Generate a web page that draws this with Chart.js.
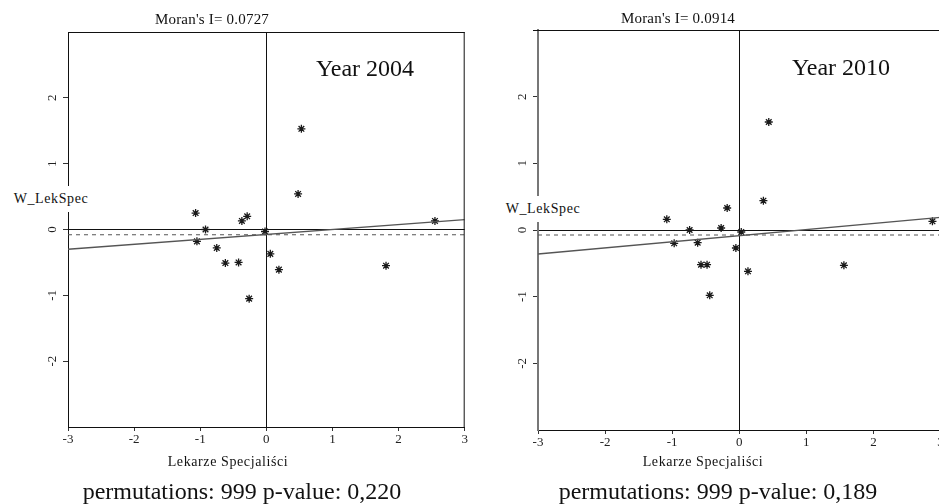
<!DOCTYPE html>
<html>
<head>
<meta charset="utf-8">
<script src="https://cdn.jsdelivr.net/npm/chart.js@4/dist/chart.umd.min.js"></script>
<style>
  html, body { margin: 0; padding: 0; background: #fff; }
  body { width: 939px; height: 504px; position: relative; overflow: hidden; }
  .panel { position: absolute; top: 0; height: 504px; }
  .lbl { position: absolute; transform: translate(-50%, -50%); white-space: nowrap;
         font-family: 'Liberation Serif', 'Times New Roman', serif; color: #111; line-height: 1; }
  .small { font-size: 14px; letter-spacing: 0.6px; }
  .title { font-size: 15px; letter-spacing: 0.2px; }
  .big { font-size: 24px; }
  .ylab { background: #fff; padding: 6px 1px; }
</style>
</head>
<body>

<div class="panel" style="left:0; width:470px;"><canvas id="chart2004"></canvas></div>
<div class="panel" style="left:470px; width:480px;"><canvas id="chart2010"></canvas></div>

<div class="lbl title" style="left:212px; top:19px;">Moran's I= 0.0727</div>
<div class="lbl title" style="left:678px; top:18px;">Moran's I= 0.0914</div>
<div class="lbl big" style="left:365px; top:68px;">Year 2004</div>
<div class="lbl big" style="left:841px; top:67px;">Year 2010</div>
<div class="lbl small ylab" style="left:51px; top:199px;">W_LekSpec</div>
<div class="lbl small ylab" style="left:543px; top:209px;">W_LekSpec</div>
<div class="lbl small" style="left:228px; top:462px;">Lekarze Specjaliści</div>
<div class="lbl small" style="left:703px; top:462px;">Lekarze Specjaliści</div>
<div class="lbl big" style="left:242px; top:491px;">permutations: 999 p-value: 0,220</div>
<div class="lbl big" style="left:718px; top:491px;">permutations: 999 p-value: 0,189</div>

<script>
const xTicks = [-3, -2, -1, 0, 1, 2, 3];
const yTicks = [-2, -1, 0, 1, 2];

const x2004 = [-1.07, -0.92, -1.05, -0.75, -0.37, -0.29, -0.02, 0.06, 0.53, 0.48, 2.55, -0.62, -0.42, -0.26, 0.19, 1.81];
const y2004 = [0.25, 0.00, -0.18, -0.28, 0.13, 0.20, -0.03, -0.37, 1.53, 0.54, 0.13, -0.51, -0.50, -1.05, -0.61, -0.55];

const x2010 = [-1.08, -0.74, -0.97, -0.62, -0.27, -0.18, -0.05, 0.03, 0.44, 0.36, 2.88, -0.57, -0.48, -0.44, 0.13, 1.56];
const y2010 = [0.16, 0.00, -0.20, -0.19, 0.03, 0.33, -0.27, -0.03, 1.62, 0.44, 0.13, -0.52, -0.52, -0.98, -0.62, -0.53];

// regression line and dashed reference line, endpoints at x = -3 and x = 3
const lineX = [-3, 3];
const fit2004 = [-0.30, 0.15];
const fit2010 = [-0.36, 0.19];
const dash2004 = [-0.08, -0.08];
const dash2010 = [-0.075, -0.075];

const FONT = "'Liberation Serif', 'Times New Roman', serif";

function pts(xs, ys) {
    return xs.map((x, i) => ({ x: x, y: ys[i] }));
}

// box around the plot area (top and right edges)
const framePlugin = {
    id: 'frame',
    afterDraw(chart, args, opts) {
        const a = chart.chartArea;
        const ctx = chart.ctx;
        ctx.save();
        ctx.strokeStyle = '#111';
        ctx.lineWidth = 1;
        ctx.beginPath();
        ctx.moveTo(a.left - (opts.topExtra || 0), a.top + 0.5);
        ctx.lineTo(a.right, a.top + 0.5);
        ctx.moveTo(a.right - 0.5, a.top);
        ctx.lineTo(a.right - 0.5, a.bottom);
        ctx.stroke();
        ctx.restore();
    }
};

function makeChart(id, xs, ys, fit, dash, pad, yBorder, topExtra) {
    const ctx = document.getElementById(id).getContext('2d');
    return new Chart(ctx, {
        type: 'scatter',
        data: {
            datasets: [
                {
                    label: 'fit',
                    data: pts(lineX, fit),
                    showLine: true,
                    borderColor: '#555',
                    borderWidth: 1.4,
                    pointRadius: 0
                },
                {
                    label: 'mean',
                    data: pts(lineX, dash),
                    showLine: true,
                    borderColor: '#555',
                    borderWidth: 1.2,
                    borderDash: [4, 4],
                    pointRadius: 0
                },
                {
                    label: 'obs',
                    data: pts(xs, ys),
                    pointStyle: 'star',
                    pointRadius: 4,
                    borderColor: '#1a1a1a',
                    backgroundColor: '#1a1a1a',
                    borderWidth: 1.3
                }
            ]
        },
        options: {
            responsive: true,
            maintainAspectRatio: false,
            animation: false,
            layout: { padding: pad },
            plugins: {
                legend: { display: false },
                tooltip: { enabled: false },
                frame: { topExtra: topExtra }
            },
            scales: {
                x: {
                    type: 'linear',
                    min: -3,
                    max: 3,
                    afterBuildTicks: (s) => { s.ticks = xTicks.map(v => ({ value: v })); },
                    afterFit: (s) => { s.height = 25; },
                    border: { color: '#111', width: 1 },
                    grid: {
                        color: (c) => (c.tick && c.tick.value === 0 ? '#111' : 'rgba(0,0,0,0)'),
                        lineWidth: 1,
                        tickColor: '#333',
                        tickLength: 4
                    },
                    ticks: {
                        padding: 1,
                        color: '#222',
                        font: { family: FONT, size: 13 },
                        maxRotation: 0,
                        autoSkip: false
                    }
                },
                y: {
                    type: 'linear',
                    min: -3,
                    max: 3,
                    afterBuildTicks: (s) => { s.ticks = yTicks.map(v => ({ value: v })); },
                    afterFit: (s) => { s.width = 68; },
                    border: { color: yBorder.color, width: yBorder.width },
                    grid: {
                        color: (c) => (c.tick && c.tick.value === 0 ? '#111' : 'rgba(0,0,0,0)'),
                        lineWidth: 1,
                        tickColor: '#333',
                        tickLength: 5
                    },
                    ticks: {
                        padding: 5,
                        color: '#222',
                        font: { family: FONT, size: 13 },
                        minRotation: 90,
                        maxRotation: 90,
                        crossAlign: 'center',
                        autoSkip: false
                    }
                }
            }
        },
        plugins: [framePlugin]
    });
}

makeChart('chart2004', x2004, y2004, fit2004, dash2004,
    { top: 32, right: 4, left: 0, bottom: 52 }, { color: '#111', width: 1 }, 0);
makeChart('chart2010', x2010, y2010, fit2010, dash2010,
    { top: 30, right: 9.5, left: 0, bottom: 49 }, { color: '#777', width: 2 }, 5);
</script>
</body>
</html>
